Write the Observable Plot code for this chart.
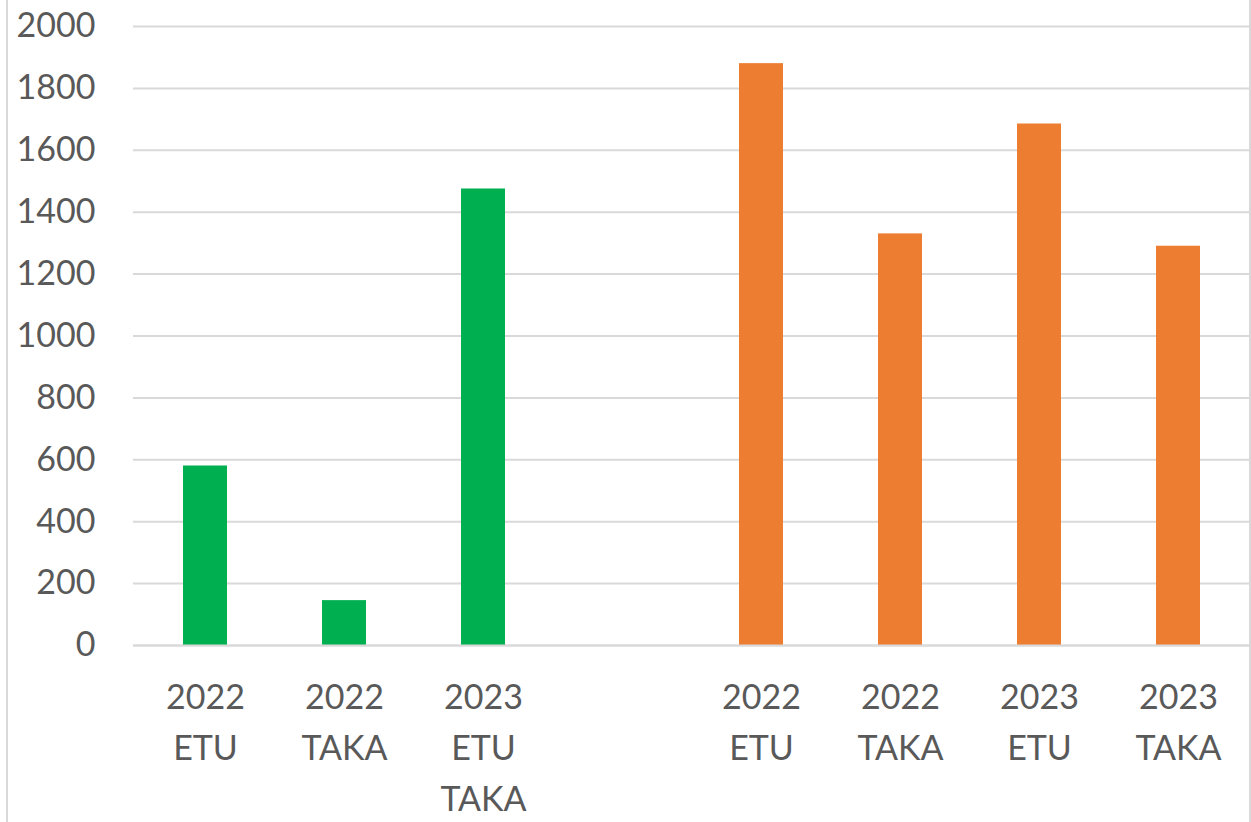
<!DOCTYPE html>
<html>
<head>
<meta charset="utf-8">
<script src="https://cdn.jsdelivr.net/npm/d3@7"></script>
<script src="https://cdn.jsdelivr.net/npm/@observablehq/plot@0.6"></script>
<style>
  html, body { margin: 0; padding: 0; background: #fff; }
  #wrap { position: relative; width: 1251px; height: 822px; overflow: hidden; }
  #frame { position: absolute; left: 6px; top: 0; width: 1241px; height: 822px;
           border-left: 2px solid #d9d9d9; border-right: 2px solid #d9d9d9; pointer-events: none; }
</style>
</head>
<body>
<div id="wrap"><div id="frame"></div></div>
<script>
const slots = [0, 1, 2, 3, 4, 5, 6, 7];
const labels = ["2022\nETU", "2022\nTAKA", "2023\nETU\nTAKA", "", "2022\nETU", "2022\nTAKA", "2023\nETU", "2023\nTAKA"];
const values = [580, 145, 1475, null, 1880, 1330, 1685, 1290];
const series = ["A", "A", "A", null, "B", "B", "B", "B"];
const yTicks = [0, 200, 400, 600, 800, 1000, 1200, 1400, 1600, 1800, 2000];
const seriesColors = { A: "#00B050", B: "#ED7D31" };

const data = slots
  .map(i => ({ slot: i, value: values[i], series: series[i] }))
  .filter(d => d.value != null);

const chart = Plot.plot({
  width: 1251,
  height: 822,
  marginLeft: 133,
  marginRight: 0,
  marginTop: 26,
  marginBottom: 177,
  style: { fontFamily: "Lato, 'Open Sans', sans-serif", fontSize: "34px", color: "#595959", background: "transparent" },
  x: { domain: slots, paddingInner: 0.68, paddingOuter: 0.34, align: 0.5 },
  y: { domain: [0, 2000] },
  color: { domain: Object.keys(seriesColors), range: Object.values(seriesColors) },
  marks: [
    Plot.gridY(yTicks, { stroke: "#d9d9d9", strokeOpacity: 1, strokeWidth: 2 }),
    Plot.barY(data, { x: "slot", y: "value", fill: "series" }),
    Plot.axisY(yTicks, { tickSize: 0, tickPadding: 38, fontSize: 34, fill: "#595959", label: null,
                         tickFormat: d => String(d) }),
    Plot.axisX({ tickSize: 0, tickPadding: 27, fontSize: 34, fill: "#595959", lineHeight: 1.5,
                 tickFormat: i => labels[i], label: null }),
    Plot.ruleY([0], { stroke: "#d9d9d9", strokeWidth: 2 })
  ]
});
document.getElementById("wrap").prepend(chart);
</script>
</body>
</html>
